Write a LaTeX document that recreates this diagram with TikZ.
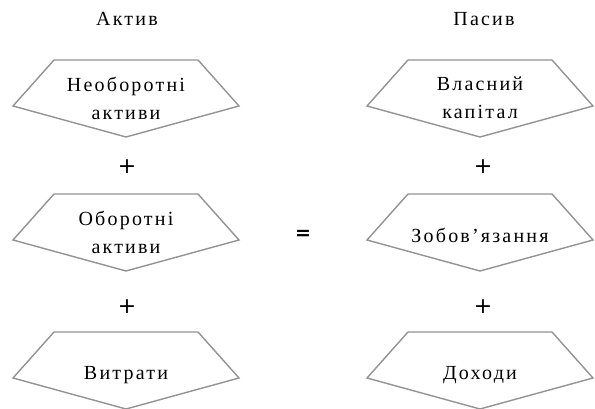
\documentclass[tikz,border=0pt]{standalone}
\usepackage{fontspec}
\setmainfont{Liberation Serif}[LetterSpace=11]
\newfontfamily\symfont{DejaVu Sans}
\usepackage{tikz}
\usetikzlibrary{positioning,calc}

\begin{document}
\begin{tikzpicture}[x=1pt,y=-1pt,
    lbl/.style={font=\fontsize{20}{28}\selectfont, align=center, inner sep=0pt},
    frame/.style={draw=gray!85, line width=1.4pt, line join=miter, fill=white}]
            \useasboundingbox (0,0) rectangle (595,409);

            \node[lbl] (akt) at (127,19) {Актив};
            \node[lbl] (pas) at (484,19) {Пасив};

            \coordinate (NA) at (126,98);
            \coordinate (OA) at (126,232);
            \coordinate (VY) at (126,370);
            \coordinate (VK) at (480,98);
            \coordinate (ZO) at (480,232);
            \coordinate (DO) at (480,370);

            \foreach \n in {NA,OA,VY,VK,ZO,DO}
              \draw[frame] ($(\n)+(-72,-38)$) -- ($(\n)+(72,-38)$) -- ($(\n)+(113,8)$)
                -- ($(\n)+(0,39)$) -- ($(\n)+(-113,8)$) -- cycle;

            \node[lbl] (na) at ($(NA)+(0,0)$) {Необоротні\\активи};
            \node[lbl] (oa) at ($(OA)+(0,0)$) {Оборотні\\активи};
            \node[lbl] (vy) at ($(VY)+(0,5)$) {Витрати};
            \node[lbl] (vk) at ($(VK)+(0,0)$) {Власний\\капітал};
            \node[lbl] (zo) at ($(ZO)+(0,3)$) {Зобов’язання};
            \node[lbl] (do) at ($(DO)+(0,5)$) {Доходи};

            \node[lbl, font=\fontsize{22}{22}\selectfont\symfont] (p1) at (127,167) {+};
            \node[lbl, font=\fontsize{22}{22}\selectfont\symfont] (p2) at (127,307) {+};
            \node[lbl, font=\fontsize{22}{22}\selectfont\symfont] (p3) at (483,167) {+};
            \node[lbl, font=\fontsize{22}{22}\selectfont\symfont] (p4) at (483,307) {+};
            \node[lbl, font=\fontsize{19}{19}\selectfont\symfont\bfseries] (eq) at (303,235) {=};
        \end{tikzpicture}
\end{document}
